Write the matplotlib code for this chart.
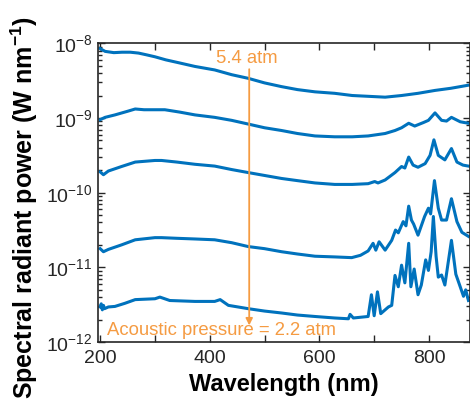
import numpy as np
import matplotlib
matplotlib.use("Agg")
import matplotlib.pyplot as plt
from matplotlib.ticker import LogLocator, NullFormatter, FixedLocator, FixedFormatter

plt.rcParams['font.family'] = ['Liberation Sans', 'DejaVu Sans']
plt.rcParams['mathtext.fontset'] = 'custom'
plt.rcParams['mathtext.rm'] = 'Liberation Sans'
plt.rcParams['mathtext.it'] = 'Liberation Sans:italic'
plt.rcParams['mathtext.bf'] = 'Liberation Sans:bold'

# ---- data ----
wl_1 = [200, 209, 225, 240, 255, 270, 285, 300, 320, 343, 373, 409, 440, 470, 500, 531, 560, 592, 628, 660, 690,
        720, 750, 780, 811, 840, 872]
p_1 = [8.5e-9, 7.8e-9, 7.5e-9, 7.6e-9, 7.6e-9, 7.4e-9, 7.0e-9, 6.6e-9, 6.0e-9, 5.5e-9, 4.9e-9, 4.4e-9, 3.8e-9,
       3.4e-9, 2.95e-9, 2.63e-9, 2.4e-9, 2.24e-9, 2.14e-9, 2.0e-9, 1.95e-9, 1.9e-9, 2.0e-9, 2.14e-9, 2.34e-9,
       2.5e-9, 2.75e-9]

wl_2 = [200, 209, 227, 250, 264, 280, 300, 318, 345, 373, 409, 440, 470, 500, 531, 560, 592, 628, 660, 689, 720,
        738, 750, 763, 774, 790, 799, 811, 823, 832, 841, 857, 872]
p_2 = [9.5e-10, 1.02e-9, 1.1e-9, 1.23e-9, 1.32e-9, 1.29e-9, 1.29e-9, 1.29e-9, 1.2e-9, 1.1e-9, 1.02e-9, 9.3e-10,
       8.3e-10, 7.4e-10, 6.8e-10, 6.2e-10, 5.75e-10, 5.6e-10, 5.6e-10, 5.75e-10, 6.2e-10, 6.8e-10, 7.4e-10, 8.5e-10,
       7.8e-10, 8.7e-10, 9.3e-10, 1.17e-9, 9.3e-10, 9.1e-10, 1.02e-9, 8.9e-10, 8.5e-10]

wl_3 = [200, 206, 215, 239, 264, 300, 312, 340, 373, 409, 440, 470, 500, 531, 560, 592, 628, 660, 689, 701, 707,
        720, 738, 750, 756, 763, 771, 780, 793, 802, 809, 817, 829, 841, 851, 862, 872]
p_3 = [1.9e-10, 1.74e-10, 1.95e-10, 2.24e-10, 2.57e-10, 2.7e-10, 2.7e-10, 2.57e-10, 2.4e-10, 2.27e-10, 2.04e-10,
       1.86e-10, 1.7e-10, 1.55e-10, 1.45e-10, 1.35e-10, 1.29e-10, 1.29e-10, 1.32e-10, 1.41e-10, 1.35e-10, 1.48e-10,
       1.86e-10, 2.24e-10, 2.14e-10, 3.0e-10, 2.34e-10, 2.19e-10, 2.45e-10, 3.16e-10, 5.1e-10, 3.16e-10, 2.75e-10,
       3.9e-10, 2.57e-10, 2.34e-10, 2.27e-10]

wl_4 = [200, 206, 215, 239, 264, 300, 312, 340, 373, 409, 440, 470, 500, 531, 560, 592, 628, 659, 675, 689, 698,
        703, 709, 720, 732, 739, 744, 753, 758, 763, 768, 772, 780, 792, 799, 803, 810, 817, 823, 832, 841, 851,
        860, 872]
p_4 = [1.78e-11, 1.62e-11, 1.74e-11, 2.0e-11, 2.34e-11, 2.5e-11, 2.5e-11, 2.45e-11, 2.4e-11, 2.34e-11, 2.14e-11,
       1.9e-11, 1.78e-11, 1.62e-11, 1.51e-11, 1.41e-11, 1.38e-11, 1.35e-11, 1.45e-11, 1.66e-11, 2.1e-11, 1.7e-11,
       2.2e-11, 1.7e-11, 2.3e-11, 3.16e-11, 2.9e-11, 4.1e-11, 3.6e-11, 6.6e-11, 4.3e-11, 3.8e-11, 2.7e-11, 4.8e-11,
       6.2e-11, 5.2e-11, 1.45e-10, 6.2e-11, 4.3e-11, 4.3e-11, 8.3e-11, 4.1e-11, 2.95e-11, 2.6e-11]

wl_5 = [200, 202, 204, 206, 208, 215, 227, 245, 264, 300, 309, 327, 373, 409, 419, 434, 470, 500, 531, 560, 592,
        628, 653, 656, 662, 689, 695, 700, 706, 712, 726, 732, 738, 744, 750, 756, 763, 767, 773, 780, 786, 794,
        799, 804, 808, 813, 817, 823, 829, 841, 849, 857, 863, 867, 872]
p_5 = [2.95e-12, 3.25e-12, 2.7e-12, 3.1e-12, 2.8e-12, 2.95e-12, 3.0e-12, 3.3e-12, 3.7e-12, 3.8e-12, 4.0e-12,
       3.6e-12, 3.5e-12, 3.5e-12, 3.7e-12, 3.1e-12, 2.8e-12, 2.6e-12, 2.45e-12, 2.3e-12, 2.2e-12, 2.1e-12,
       2.05e-12, 2.35e-12, 2.1e-12, 2.2e-12, 4.3e-12, 2.25e-12, 4.7e-12, 2.4e-12, 2.95e-12, 3.1e-12, 7.8e-12,
       5.5e-12, 1.07e-11, 6.2e-12, 2.1e-11, 5.5e-12, 9.5e-12, 4.3e-12, 5.8e-12, 1.26e-11, 9.1e-12, 1.62e-11,
       4.8e-11, 1.4e-11, 7.4e-12, 7.9e-12, 5.8e-12, 2.3e-11, 8.1e-12, 5.5e-12, 4.1e-12, 5.0e-12, 3.6e-12]

x_ticks = [200, 300, 400, 500, 600, 700, 800]
x_tick_labels = ['200', '', '400', '', '600', '', '800']
y_ticks = [1e-12, 1e-11, 1e-10, 1e-9, 1e-8]
y_tick_labels = ['$10^{-12}$', '$10^{-11}$', '$10^{-10}$', '$10^{-9}$', '$10^{-8}$']

top_label = '5.4 atm'
bottom_label = 'Acoustic pressure = 2.2 atm'
arrow_wl = 472
arrow_top, arrow_bottom = 4.5e-9, 1.67e-12

# ---- figure ----
blue = '#0072BD'
orange = '#F59B42'
ink = '#262626'

fig = plt.figure(figsize=(4.70, 4.01), dpi=100)
ax = fig.add_axes([0.209, 0.147, 0.790, 0.745])

for wl, p in [(wl_1, p_1), (wl_2, p_2), (wl_3, p_3), (wl_4, p_4), (wl_5, p_5)]:
    ax.plot(wl, p, color=blue, lw=2.2, solid_joinstyle='round')

ax.set_yscale('log')
ax.set_xlim(196.5, 874)
ax.set_ylim(1e-12, 1e-8)

ax.xaxis.set_major_locator(FixedLocator(x_ticks))
ax.xaxis.set_major_formatter(FixedFormatter(x_tick_labels))
ax.yaxis.set_major_locator(FixedLocator(y_ticks))
ax.yaxis.set_major_formatter(FixedFormatter(y_tick_labels))
ax.yaxis.set_minor_locator(LogLocator(base=10, subs=np.arange(2, 10), numticks=20))
ax.yaxis.set_minor_formatter(NullFormatter())

ax.tick_params(which='both', direction='in', top=True, right=True, colors=ink,
               labelsize=14, width=1.0)
ax.tick_params(which='major', length=5)
ax.tick_params(which='minor', length=3)
ax.tick_params(axis='x', pad=6)
ax.tick_params(axis='y', pad=4)
for s in ax.spines.values():
    s.set_linewidth(1.2)
    s.set_color(ink)

ax.set_xlabel('Wavelength (nm)', fontsize=17, fontweight='bold', color='black', labelpad=4)
ax.set_ylabel('Spectral radiant power (W nm$^{\\mathbf{-1}}$)', fontsize=18, fontweight='bold',
              color='black', labelpad=1)
ax.yaxis.set_label_coords(-0.157, 0.45)

ax.annotate('', xy=(arrow_wl, arrow_bottom), xytext=(arrow_wl, arrow_top),
            arrowprops=dict(arrowstyle='-|>', color=orange, lw=1.3, mutation_scale=10,
                            shrinkA=0, shrinkB=0))
ax.text(arrow_wl - 4, 6.35e-9, top_label, color=orange, fontsize=13.3, ha='center', va='center')
ax.text(212, 1.44e-12, bottom_label, color=orange, fontsize=13.3, ha='left', va='center')

fig.savefig('out.png', dpi=100)
